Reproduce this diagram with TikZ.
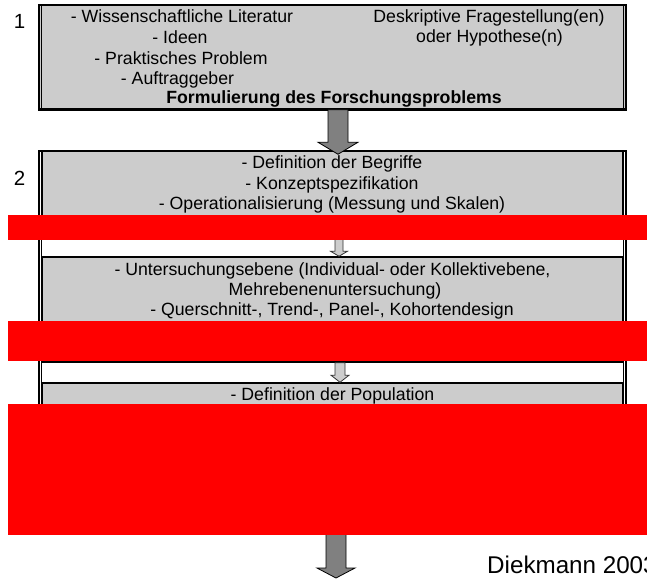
\documentclass[tikz,border=0pt]{standalone}
\usepackage{fontspec}
\setmainfont{Liberation Sans}
\usetikzlibrary{calc}
\definecolor{boxgray}{RGB}{204,204,204}
\definecolor{arrowgray}{RGB}{128,128,128}
\definecolor{lightarrow}{RGB}{205,205,205}
\definecolor{redbar}{RGB}{255,0,0}
\newcommand{\myblockarrow}[6]{%
  \path[#1] let \p1=(#2), \p2=(#3) in
    (\x1-#4,\y1) -- (\x1-#4,\y2+#6) -- (\x1-#5,\y2+#6) -- (\x1,\y2)
    -- (\x1+#5,\y2+#6) -- (\x1+#4,\y2+#6) -- (\x1+#4,\y1) -- cycle;}
\begin{document}
\begin{tikzpicture}[x=1pt,y=-1pt,
  outerbox/.style={rectangle, draw=black, line width=1.3pt, inner sep=0pt},
  subbox/.style={rectangle, draw=black, line width=1.5pt, fill=boxgray, inner sep=0pt},
  innerline/.style={draw=black, line width=0.8pt},
  bigarrow/.style={fill=arrowgray, draw=black, line width=0.8pt},
  smallarrow/.style={fill=lightarrow, draw=black!80, line width=0.8pt},
  txt/.style={font=\fontsize{17.7}{20}\selectfont, inner sep=0pt, anchor=base},
  btxt/.style={font=\fontsize{17.7}{20}\selectfont\bfseries, inner sep=0pt, anchor=base},
  numtxt/.style={font=\fontsize{20.5}{24}\selectfont, inner sep=0pt, anchor=base},
  srctxt/.style={font=\fontsize{24.2}{28}\selectfont, inner sep=0pt, anchor=base west},
  redpatch/.style={fill=redbar}]
\useasboundingbox (0,0) rectangle (647,579);
\fill[white] (0,0) rectangle (647,579);

% box 1
\node[outerbox, fill=boxgray, minimum width=587pt, minimum height=104pt] (box1) at (332.5,57) {};
\draw[innerline] ($(box1.north west)+(3,0)$) -- ($(box1.south west)+(3,0)$);
\draw[innerline] ($(box1.north east)+(-3,0)$) -- ($(box1.south east)+(-3,0)$);
\draw[line width=2pt] (box1.south west) -- (box1.south east);

% box 2 (outer frame)
\node[outerbox, fill=white, minimum width=587pt, minimum height=379pt] (box2) at (332.5,340.5) {};
% sub boxes
\node[subbox, minimum width=581pt, minimum height=87pt] (sb1) at (332.5,194.5) {};
\node[subbox, minimum width=581pt, minimum height=105pt] (sb2) at (332.5,309.5) {};
\node[subbox, minimum width=581pt, minimum height=117pt] (sb3) at (332.5,441.5) {};
\draw[innerline] ($(box2.north west)+(3,0)$) -- ($(box2.south west)+(3,0)$);
\draw[innerline] ($(box2.north east)+(-3,0)$) -- ($(box2.south east)+(-3,0)$);

% axes for arrows
\coordinate (axA) at (338,0);
\coordinate (axB) at (339,0);
\coordinate (axC) at (340,0);
\coordinate (axD) at (336,0);
\coordinate (endpt) at (336,578);

% arrows
\myblockarrow{bigarrow}{box1.south -| axA}{$(sb1.north -| axA)+(0,4)$}{10pt}{20pt}{12pt}
\myblockarrow{smallarrow}{sb1.south -| axB}{sb2.north -| axB}{4pt}{8.5pt}{5pt}
\myblockarrow{smallarrow}{sb2.south -| axC}{sb3.north -| axC}{5pt}{9pt}{7pt}
\myblockarrow{bigarrow}{box2.south -| axD}{endpt}{10pt}{19pt}{10pt}

% numbers
\node[numtxt] (n1) at (19.5,28) {1};
\node[numtxt] (n2) at (19.5,185) {2};

% box 1 texts
\node[txt] (t11) at (182,22) {- Wissenschaftliche Literatur};
\node[txt] (t12) at (180,43) {- Ideen};
\node[txt] (t13) at (181,64) {- Praktisches Problem};
\node[txt] (t14) at (177.5,84) {- Auftraggeber};
\node[txt] (t15) at (489,22) {Deskriptive Fragestellung(en)};
\node[txt] (t16) at (489.5,42) {oder Hypothese(n)};
\node[btxt] (t17) at (334,103) {Formulierung des Forschungsproblems};

% sub box 1 texts
\node[txt] (t21) at (332,168) {- Definition der Begriffe};
\node[txt] (t22) at (332,189) {- Konzeptspezifikation};
\node[txt] (t23) at (332,209) {- Operationalisierung (Messung und Skalen)};

% sub box 2 texts
\node[txt] (t31) at (332.5,275) {- Untersuchungsebene (Individual- oder Kollektivebene,};
\node[txt] (t32) at (335,295) {Mehrebenenuntersuchung)};
\node[txt] (t33) at (332,315) {- Querschnitt-, Trend-, Panel-, Kohortendesign};

% sub box 3 text
\node[txt] (t41) at (332.5,400) {- Definition der Population};

% red patches
\fill[redpatch] (8,215) rectangle (647,240);
\fill[redpatch] (8,321) rectangle (647,361);
\fill[redpatch] (8,404) rectangle (647,535);

% source
\node[srctxt] (src) at (487,573) {Diekmann 2003};
\end{tikzpicture}
\end{document}
